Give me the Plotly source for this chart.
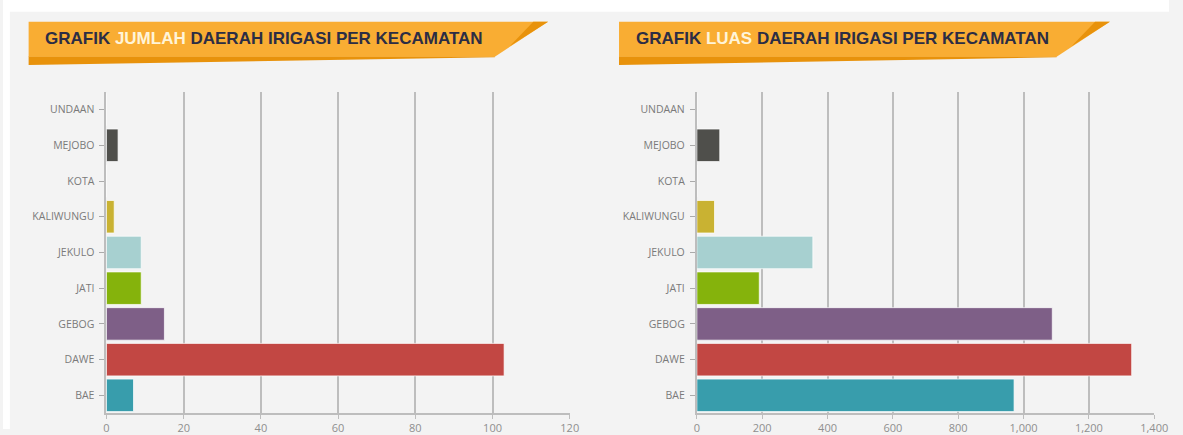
import plotly.graph_objects as go

# ---- data ----
kecamatan = ["BAE", "DAWE", "GEBOG", "JATI", "JEKULO", "KALIWUNGU", "KOTA", "MEJOBO", "UNDAAN"]
jumlah = [7, 103, 15, 9, 9, 2, 0, 3, 0]
luas = [971, 1331, 1088, 191, 355, 54, 0, 70, 0]
bar_colors = ["#389dac", "#c24743", "#7e5f87", "#85b30c", "#a7d0d0", "#c9b232", "#9f9f9f", "#4f4f4b", "#9f9f9f"]
jumlah_ticks = [0, 20, 40, 60, 80, 100, 120]
luas_ticks = [0, 200, 400, 600, 800, 1000, 1200, 1400]
title_left = ("GRAFIK ", "JUMLAH", " DAERAH IRIGASI PER KECAMATAN")
title_right = ("GRAFIK ", "LUAS", " DAERAH IRIGASI PER KECAMATAN")

W, H = 1183, 435
BG = "#f3f3f3"
GRID = "#bdbdbd"


def px(x):
    return x / W


def py(y):
    return 1 - y / H


fig = go.Figure()

fig.add_trace(go.Bar(
    x=jumlah, y=kecamatan, orientation="h",
    marker=dict(color=bar_colors, line=dict(color="rgba(255,255,255,0.7)", width=1)),
    xaxis="x", yaxis="y", showlegend=False,
    hovertemplate="%{y}: %{x}<extra></extra>",
))
fig.add_trace(go.Bar(
    x=luas, y=kecamatan, orientation="h",
    marker=dict(color=bar_colors, line=dict(color="rgba(255,255,255,0.7)", width=1)),
    xaxis="x2", yaxis="y2", showlegend=False,
    hovertemplate="%{y}: %{x:,}<extra></extra>",
))

ydom = [py(419), py(93)]
tickfont_x = dict(family="Open Sans, Lato, sans-serif", size=11, color="#8f8f8f")
tickfont_y = dict(family="Open Sans, Lato, sans-serif", size=10.5, color="#7a7a7a")

common_x = dict(
    showgrid=True, gridcolor=GRID, gridwidth=2,
    showline=True, linecolor=GRID, linewidth=2,
    ticks="outside", ticklen=4, tickcolor=GRID, tickwidth=1,
    zeroline=False, tickfont=tickfont_x, tickformat=",",
    fixedrange=True,
)
common_y = dict(
    categoryorder="array", categoryarray=kecamatan,
    showline=True, linecolor=GRID, linewidth=2,
    ticks="outside", ticklen=5, tickcolor="#aaaaaa", tickwidth=1,
    ticklabelstandoff=3,
    showgrid=False, zeroline=False, tickfont=tickfont_y,
    domain=ydom, fixedrange=True,
)

fig.update_layout(
    width=W, height=H,
    margin=dict(l=0, r=0, t=0, b=0),
    paper_bgcolor=BG, plot_bgcolor=BG,
    bargap=0.09,
    xaxis=dict(domain=[px(105), px(575)], range=[0, 120], tickvals=jumlah_ticks, anchor="y", **common_x),
    yaxis=dict(anchor="x", **common_y),
    xaxis2=dict(domain=[px(704), px(1168)], range=[0, 1400], tickvals=luas_ticks, anchor="y2", **common_x),
    yaxis2=dict(anchor="x2", **common_y),
)

shapes = []
# white strips at top and left edge of the page
shapes.append(dict(type="rect", xref="paper", yref="paper", x0=0, x1=1, y0=py(12), y1=1,
                   fillcolor="#ffffff", line=dict(width=0), layer="below"))
shapes.append(dict(type="rect", xref="paper", yref="paper", x0=0, x1=px(7), y0=0, y1=1,
                   fillcolor="#ffffff", line=dict(width=0), layer="below"))


def banner(x0, xtip, xslant):
    out = []
    # darker under-strip (wedge)
    out.append(dict(type="path", xref="paper", yref="paper",
                    path=f"M {px(x0)},{py(57)} L {px(xslant)},{py(57)} L {px(xslant)},{py(58)} L {px(x0)},{py(66)} Z",
                    fillcolor="#e8920b", line=dict(width=0), layer="above"))
    # main orange body
    out.append(dict(type="path", xref="paper", yref="paper",
                    path=f"M {px(x0)},{py(22)} L {px(xtip)},{py(22)} L {px(xslant)},{py(57.5)} L {px(x0)},{py(57.5)} Z",
                    fillcolor="#f9ad33", line=dict(width=0), layer="above"))
    # darker tip along diagonal
    out.append(dict(type="path", xref="paper", yref="paper",
                    path=f"M {px(xtip-15)},{py(22)} L {px(xtip)},{py(22)} L {px(xtip-(xtip-xslant)*0.72)},{py(47)} Z",
                    fillcolor="#e8920b", line=dict(width=0), layer="above"))
    return out


shapes += banner(26, 553, 499)
shapes += banner(625, 1123, 1069)
fig.update_layout(shapes=shapes)

TXT = "#2c2d45"
HL = "#fff4d8"


def title_text(parts):
    a, b, c = parts
    return f"<b>{a}<span style='color:{HL}'>{b}</span>{c}</b>"


for parts, x in ((title_left, 41), (title_right, 640)):
    fig.add_annotation(
        xref="paper", yref="paper", x=px(x), y=py(39.5),
        xanchor="left", yanchor="middle", showarrow=False,
        text=title_text(parts),
        font=dict(family="Liberation Sans, Arial, sans-serif", size=17, color=TXT),
    )

fig.write_html(
    "out.html",
    config={"displayModeBar": False},
    post_script="document.body.style.margin='0';document.body.style.padding='0';"
                "document.documentElement.style.overflow='hidden';",
)
